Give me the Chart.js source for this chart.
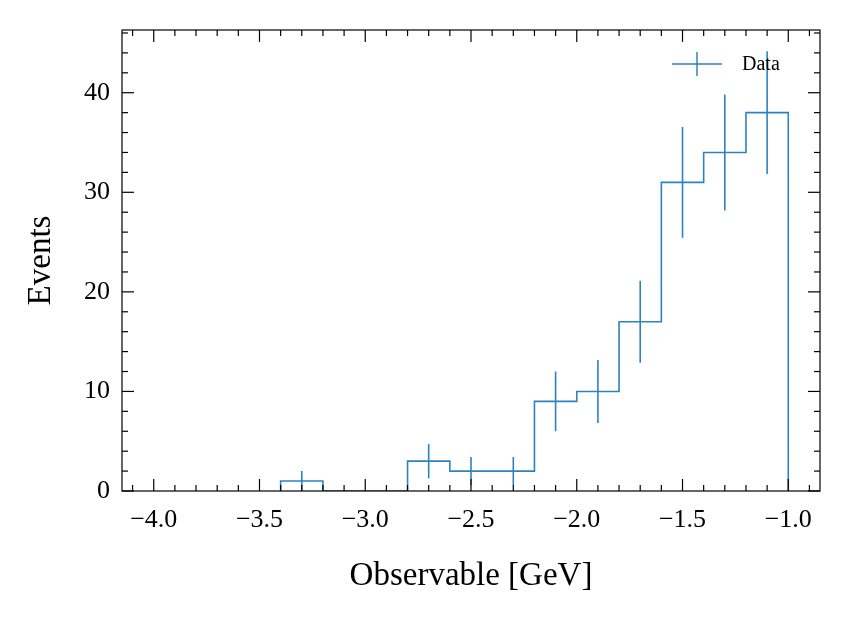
<!DOCTYPE html>
<html><head><meta charset="utf-8">
<script src="https://cdn.jsdelivr.net/npm/chart.js@4/dist/chart.umd.min.js"></script>
<style>html,body{margin:0;padding:0;background:#fff}#w{width:850px;height:622px}</style>
</head><body><div id="w"><canvas id="c" width="850" height="622"></canvas></div>
<script>
const binEdges = [-3.4,-3.2,-3.0,-2.8,-2.6,-2.4,-2.2,-2.0,-1.8,-1.6,-1.4,-1.2,-1.0];
const counts   = [1,0,0,3,2,2,9,10,17,31,34,38];
const errors   = [1.0,0,0,1.73,1.41,1.41,3.0,3.16,4.12,5.57,5.83,6.16];
const xTicks = [-4.0,-3.5,-3.0,-2.5,-2.0,-1.5,-1.0];
const yTicks = [0,10,20,30,40];
const color = '#2c83c0';
const F = "'Liberation Serif','DejaVu Serif',serif";

const stepPts = [{x:binEdges[0],y:0}];
counts.forEach((c,i)=>{stepPts.push({x:binEdges[i],y:c}); stepPts.push({x:binEdges[i+1],y:c});});
stepPts.push({x:binEdges[binEdges.length-1],y:0});
const errPts = [];
counts.forEach((c,i)=>{ if(c>0){const m=(binEdges[i]+binEdges[i+1])/2; errPts.push({x:m,y:c-errors[i]},{x:m,y:c+errors[i]},{x:m,y:null});}});

const tickPlugin = {id:'tk', afterDraw(ch){
  const g=ch.ctx, a=ch.chartArea, xs=ch.scales.x, ys=ch.scales.y;
  g.save(); g.strokeStyle='#000'; g.lineWidth=1.2;
  g.strokeRect(a.left,a.top,a.right-a.left,a.bottom-a.top);
  const tick=(x1,y1,x2,y2)=>{g.beginPath();g.moveTo(x1,y1);g.lineTo(x2,y2);g.stroke();};
  for(let i=-42;i<=-8;i++){const v=i/10,p=xs.getPixelForValue(v); if(p<a.left||p>a.right)continue;
    const L=(i%5===0)?12:6; tick(p,a.bottom,p,a.bottom-L); tick(p,a.top,p,a.top+L);}
  for(let v=0;v<=46;v+=2){const p=ys.getPixelForValue(v); if(p<a.top)continue;
    const L=(v%10===0)?12:6; tick(a.left,p,a.left+L,p); tick(a.right,p,a.right-L,p);}
  g.strokeStyle=color; g.lineWidth=1.5;
  tick(672,64,722,64); tick(697,52,697,76);
  g.fillStyle='#000'; g.font="20px "+F; g.textBaseline='middle'; g.fillText('Data',742,65);
  g.restore();
}};

new Chart(document.getElementById('c'),{
  type:'line',
  data:{datasets:[
    {data:stepPts,borderColor:color,borderWidth:1.6,pointRadius:0,fill:false,tension:0},
    {data:errPts,borderColor:color,borderWidth:1.6,pointRadius:0,spanGaps:false,fill:false}
  ]},
  options:{responsive:false,animation:false,
    layout:{padding:{left:18,top:30,right:30,bottom:22}},
    plugins:{legend:{display:false},tooltip:{enabled:false}},
    scales:{
      x:{type:'linear',min:-4.15,max:-0.85,grid:{display:false,drawTicks:false},border:{display:false},
        afterBuildTicks(s){s.ticks=xTicks.map(v=>({value:v}));},
        afterFit(s){s.height=109;},
        ticks:{padding:14,color:'#000',font:{family:F,size:26},callback:v=>(v<0?'\u2212':'')+Math.abs(v).toFixed(1)},
        title:{display:true,text:'Observable [GeV]',color:'#000',font:{family:F,size:33},padding:{top:4}}},
      y:{type:'linear',min:0,max:46.3,grid:{display:false,drawTicks:false},border:{display:false},
        afterBuildTicks(s){s.ticks=yTicks.map(v=>({value:v}));},
        afterFit(s){s.width=104;},
        ticks:{padding:12,color:'#000',font:{family:F,size:26}},
        title:{display:true,text:'Events',color:'#000',font:{family:F,size:33},padding:{bottom:6}}}
    }},
  plugins:[tickPlugin]
});
</script></body></html>
